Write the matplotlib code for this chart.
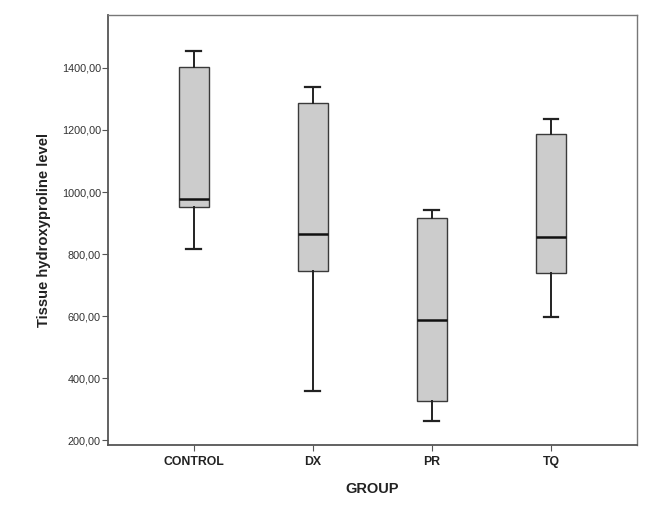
import matplotlib
matplotlib.use("Agg")
import matplotlib.pyplot as plt
from matplotlib.ticker import FuncFormatter

# values
groups = ["CONTROL", "DX", "PR", "TQ"]
whisker_low = [815, 359, 262, 597]
q1 = [953, 745, 327, 738]
median = [978, 865, 589, 855]
q3 = [1403, 1288, 916, 1186]
whisker_high = [1454, 1338, 942, 1236]

yticks = [200, 400, 600, 800, 1000, 1200, 1400]

plt.rcParams["font.family"] = ["Liberation Sans", "DejaVu Sans"]

stats = []
for i, name in enumerate(groups):
    stats.append(
        {
            "label": name,
            "whislo": whisker_low[i],
            "q1": q1[i],
            "med": median[i],
            "q3": q3[i],
            "whishi": whisker_high[i],
            "fliers": [],
        }
    )

fig = plt.figure(figsize=(6.66, 5.14), dpi=100)
ax = fig.add_axes([0.162, 0.134, 0.794, 0.837])

edge = "#3a3a3a"
ax.bxp(
    stats,
    positions=range(1, len(groups) + 1),
    widths=0.25,
    patch_artist=True,
    showfliers=False,
    boxprops=dict(facecolor="#cccccc", edgecolor=edge, linewidth=1.0),
    medianprops=dict(color="#111111", linewidth=1.8),
    whiskerprops=dict(color="#222222", linewidth=1.4),
    capprops=dict(color="#222222", linewidth=1.6),
    capwidths=0.125,
)

ax.set_xlim(0.28, 4.72)
ax.set_ylim(184, 1571)
ax.set_yticks(yticks)
ax.yaxis.set_major_formatter(FuncFormatter(lambda v, p: f"{v:.2f}".replace(".", ",")))

for side in ("left", "bottom", "top", "right"):
    ax.spines[side].set_color("#777777")
    ax.spines[side].set_linewidth(1.0)
ax.spines["left"].set_color("#555555")
ax.spines["bottom"].set_color("#555555")
ax.spines["left"].set_linewidth(1.3)
ax.spines["bottom"].set_linewidth(1.3)

ax.tick_params(axis="y", labelsize=7.8, length=4, color="#555555", labelcolor="#333333", pad=1)
ax.tick_params(axis="x", labelsize=8.8, length=4, color="#555555", labelcolor="#222222", pad=4)
for lbl in ax.get_xticklabels():
    lbl.set_fontweight("bold")

ax.set_xlabel("GROUP", fontsize=10.5, fontweight="bold", color="#222222", labelpad=10)
ax.set_ylabel("Tissue hydroxyproline level", fontsize=10.6, fontweight="bold", color="#222222", labelpad=8)

fig.savefig("out.png", dpi=100)
plt.close(fig)
